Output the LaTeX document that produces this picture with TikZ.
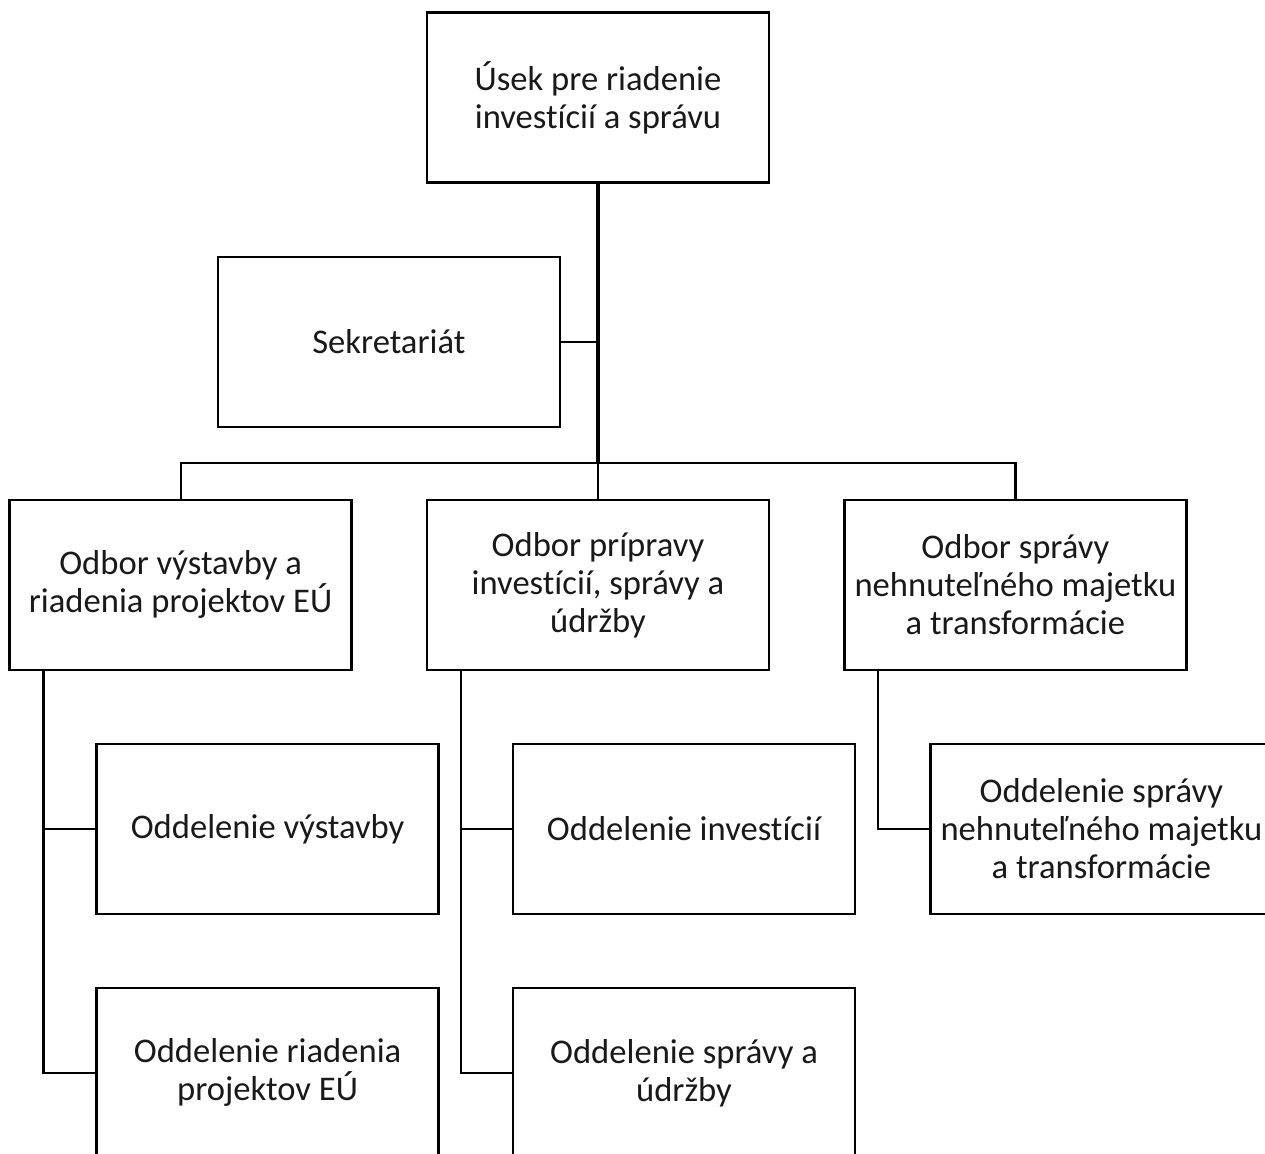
\documentclass[tikz,border=0pt]{standalone}
\usepackage{fontspec}
\setmainfont{Carlito}[Ligatures=NoCommon]
\usetikzlibrary{positioning}

\begin{document}
\begin{tikzpicture}[
    x=0.5pt, y=-0.5pt,
    node distance=35.8pt and 36.5pt,
    box/.style={rectangle, draw, line width=1.2pt, minimum width=171pt, minimum height=85pt, inner sep=2pt, align=center, text=black!90, font=\fontsize{17.3pt}{19pt}\selectfont},
    link/.style={line width=1.1pt},
    trunk/.style={line width=1.6pt}
]
    \useasboundingbox (0,0) rectangle (1265,1153);
    \clip (0,0) rectangle (1265,1153);

    \node[box] (usek) at (598,97.5) {Úsek pre riadenie\\investícií a správu};
    \node[box, anchor=north east] (sekr) at ([xshift=-18.5pt, yshift=-36pt]usek.south) {Sekretariát};
    \node[box, below=157.5pt of usek] (prip) {Odbor prípravy\\investícií, správy a\\údržby};
    \node[box, left=of prip] (vyst) {Odbor výstavby a\\riadenia projektov EÚ};
    \node[box, right=of prip] (nehn) {Odbor správy\\nehnuteľného majetku\\a transformácie};

    \node[box, below=of vyst, xshift=43.5pt] (oddvyst) {Oddelenie výstavby};
    \node[box, below=of oddvyst] (oddriad) {Oddelenie riadenia\\projektov EÚ};
    \node[box, below=of prip, xshift=43pt] (oddinv) {Oddelenie investícií};
    \node[box, below=of oddinv] (oddudrz) {Oddelenie správy a\\údržby};
    \node[box, below=of nehn, xshift=43pt] (oddnehn) {Oddelenie správy\\nehnuteľného majetku\\a transformácie};

    \coordinate (bus) at ([yshift=18pt]prip.north);
    \coordinate (vystrail) at ([xshift=17.5pt]vyst.south west);
    \coordinate (priprail) at ([xshift=17.5pt]prip.south west);
    \coordinate (nehnrail) at ([xshift=17.5pt]nehn.south west);

    \draw[trunk] (usek.south) -- (bus);
    \draw[link] (bus) -- (prip.north);
    \draw[link] (vyst.north) |- (bus) -| (nehn.north);
    \draw[link] (sekr.east) -- (sekr.east -| usek.south);

    \draw[link] (vystrail) |- (oddriad.west);
    \draw[link] (oddvyst.west) -- (oddvyst.west -| vystrail);
    \draw[link] (priprail) |- (oddudrz.west);
    \draw[link] (oddinv.west) -- (oddinv.west -| priprail);
    \draw[link] (nehnrail) |- (oddnehn.west);
\end{tikzpicture}
\end{document}
